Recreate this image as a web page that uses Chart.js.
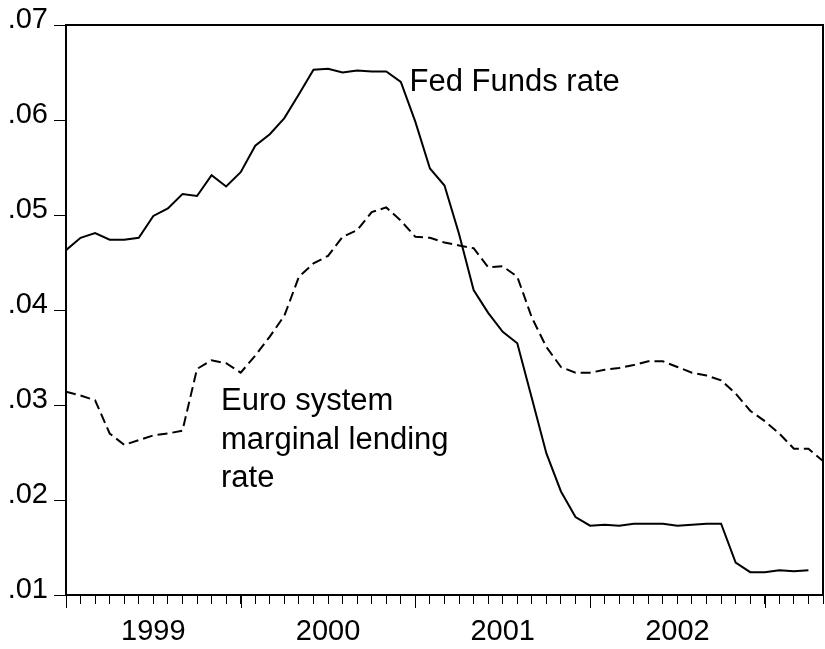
<!DOCTYPE html>
<html>
<head>
<meta charset="utf-8">
<script src="https://cdn.jsdelivr.net/npm/chart.js@4"></script>
<style>
html,body{margin:0;padding:0;background:#fff;}
#wrap{width:825px;height:649px;position:relative;}
</style>
</head>
<body>
<div id="wrap"><canvas id="c" width="825" height="649"></canvas></div>
<script>
// Monthly observations, Jan 1999 = index 0
const yearLabels = ['1999', '2000', '2001', '2002'];
const yearStartIndex = [0, 12, 24, 36, 48];
const fedFunds = [
  0.0463, 0.0476, 0.0481, 0.0474, 0.0474, 0.0476, 0.0499, 0.0507, 0.0522, 0.0520, 0.0542, 0.0530,
  0.0545, 0.0573, 0.0585, 0.0602, 0.0627, 0.0653, 0.0654, 0.0650, 0.0652, 0.0651, 0.0651, 0.0640,
  0.0598, 0.0549, 0.0531, 0.0480, 0.0421, 0.0397, 0.0377, 0.0365, 0.0307, 0.0249, 0.0209, 0.0182,
  0.0173, 0.0174, 0.0173, 0.0175, 0.0175, 0.0175, 0.0173, 0.0174, 0.0175, 0.0175, 0.0134, 0.0124,
  0.0124, 0.0126, 0.0125, 0.0126
];
const euroRate = [
  0.0314, 0.0310, 0.0305, 0.0270, 0.0258, 0.0263, 0.0268, 0.0270, 0.0273, 0.0338, 0.0347, 0.0344,
  0.0334, 0.0352, 0.0372, 0.0394, 0.0435, 0.0449, 0.0457, 0.0477, 0.0484, 0.0503, 0.0508, 0.0494,
  0.0477, 0.0476, 0.0471, 0.0468, 0.0465, 0.0445, 0.0446, 0.0435, 0.0392, 0.0361, 0.0340, 0.0334,
  0.0334, 0.0337, 0.0339, 0.0342, 0.0346, 0.0346, 0.0340, 0.0334, 0.0331, 0.0326, 0.0312, 0.0294,
  0.0283, 0.0270, 0.0254, 0.0254, 0.0241
];
const yTicks = [0.01, 0.02, 0.03, 0.04, 0.05, 0.06, 0.07];
const annotations = [
  { text: 'Fed Funds rate', x: 23.6, y: 0.06307 },
  { text: 'Euro system', x: 10.65, y: 0.02951 },
  { text: 'marginal lending', x: 10.65, y: 0.02539 },
  { text: 'rate', x: 10.65, y: 0.02139 }
];

const FONT = "'Liberation Sans', Arial, Helvetica, sans-serif";

const toXY = arr => arr.map((v, i) => ({ x: i, y: v }));

const framePlugin = {
  id: 'frame',
  afterDraw(chart) {
    const ctx = chart.ctx;
    const a = chart.chartArea;
    const xs = chart.scales.x;
    ctx.save();
    ctx.strokeStyle = '#000';
    ctx.lineWidth = 2;
    ctx.strokeRect(a.left, a.top, a.right - a.left, a.bottom - a.top);
    // longer year ticks
    ctx.lineWidth = 1;
    yearStartIndex.forEach(i => {
      const px = Math.round(xs.getPixelForValue(i)) + 0.5;
      ctx.beginPath();
      ctx.moveTo(px, a.bottom);
      ctx.lineTo(px, a.bottom + 13);
      ctx.stroke();
    });
    // annotations
    ctx.fillStyle = '#000';
    ctx.font = '31px ' + FONT;
    ctx.textBaseline = 'alphabetic';
    ctx.textAlign = 'left';
    const ys = chart.scales.y;
    annotations.forEach(an => {
      ctx.fillText(an.text, xs.getPixelForValue(an.x), ys.getPixelForValue(an.y));
    });
    ctx.restore();
  }
};

new Chart(document.getElementById('c'), {
  type: 'line',
  data: {
    datasets: [
      {
        label: 'Fed Funds rate',
        data: toXY(fedFunds),
        borderColor: '#000',
        borderWidth: 2,
        pointRadius: 0,
        tension: 0,
        fill: false
      },
      {
        label: 'Euro system marginal lending rate',
        data: toXY(euroRate),
        borderColor: '#000',
        borderWidth: 2,
        borderDash: [10, 5],
        pointRadius: 0,
        tension: 0,
        fill: false
      }
    ]
  },
  options: {
    responsive: false,
    animation: false,
    devicePixelRatio: 1,
    layout: { padding: { top: 25, right: 2, left: 0, bottom: 0 } },
    plugins: { legend: { display: false }, tooltip: { enabled: false } },
    scales: {
      x: {
        type: 'linear',
        min: 0,
        max: 52,
        afterFit(s) { s.height = 54; s.paddingLeft = 0; s.paddingRight = 0; },
        afterBuildTicks(s) {
          const t = [];
          for (let i = 0; i <= 52; i++) t.push({ value: i });
          s.ticks = t;
        },
        grid: {
          display: true,
          drawOnChartArea: false,
          drawTicks: true,
          tickLength: 9,
          tickColor: '#000',
          tickWidth: 1
        },
        border: { display: true, color: '#000', width: 2 },
        ticks: {
          autoSkip: false,
          maxRotation: 0,
          minRotation: 0,
          padding: 11,
          color: '#000',
          font: { family: FONT, size: 29 },
          callback(v) {
            const k = yearStartIndex.indexOf(v - 6);
            return k >= 0 && k < yearLabels.length ? yearLabels[k] : '';
          }
        }
      },
      y: {
        type: 'linear',
        min: 0.01,
        max: 0.07,
        afterFit(s) { s.width = 66; s.paddingTop = 0; s.paddingBottom = 0; },
        afterBuildTicks(s) { s.ticks = yTicks.map(v => ({ value: v })); },
        grid: {
          display: true,
          drawOnChartArea: false,
          drawTicks: true,
          tickLength: 12,
          tickColor: '#000',
          tickWidth: 1
        },
        border: { display: true, color: '#000', width: 2 },
        ticks: {
          padding: 6,
          labelOffset: -5,
          color: '#000',
          font: { family: FONT, size: 29 },
          callback(v) { return Number(v).toFixed(2).replace(/^0/, ''); }
        }
      }
    }
  },
  plugins: [framePlugin]
});
</script>
</body>
</html>
